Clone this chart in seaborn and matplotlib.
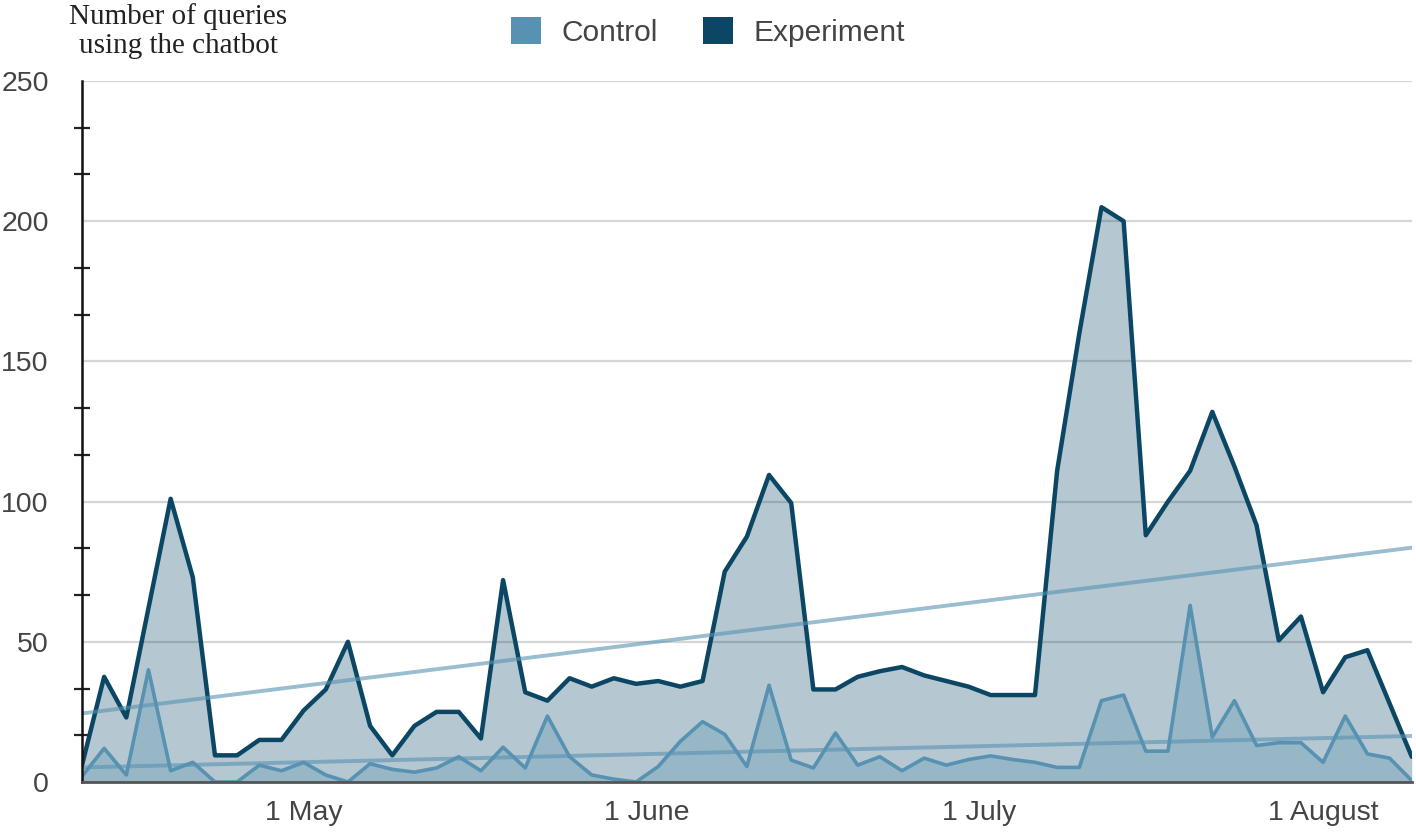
import numpy as np
import pandas as pd
import matplotlib
matplotlib.use("Agg")
import matplotlib.pyplot as plt
from matplotlib.patches import Patch
from matplotlib.ticker import MultipleLocator
import seaborn as sns

# Queries every second day
start_date = "2023-04-11"
n_points = 61
experiment = [6, 37.5, 23, 62, 101, 73, 9.5, 9.5, 15, 15,
              25.5, 33, 50, 20, 9.5, 20, 25, 25, 15.5, 72,
              32, 29, 37, 34, 37, 35, 36, 34, 36, 75,
              87.5, 109.5, 99.5, 33, 33, 37.5, 39.5, 41, 38, 36,
              34, 31, 31, 31, 111, 160, 205, 200, 88, 100,
              111, 132, 112.5, 91.5, 50.5, 59, 32, 44.5, 47, 28, 9]
control = [2, 12, 2.5, 40, 4, 7, 0, 0, 6, 4,
           7, 2.5, 0, 6.5, 4.5, 3.5, 5, 9, 4, 12.4,
           5, 23.5, 9, 2.5, 1, 0, 5.5, 14.5, 21.5, 17,
           5.5, 34.5, 7.8, 5, 17.5, 6, 9, 4, 8.5, 6,
           8, 9.3, 8, 7, 5.2, 5.2, 29, 31, 11, 11,
           63, 16, 29, 13, 14, 14, 7, 23.5, 10, 8.5, 0.5]

tick_dates = ["2023-05-01", "2023-06-01", "2023-07-01", "2023-08-01"]
tick_labels = ["1 May", "1 June", "1 July", "1 August"]
y_ticks = [0, 50, 100, 150, 200, 250]

control_color = "#5792b2"
experiment_color = "#0b4764"

df = pd.DataFrame({
    "date": pd.date_range(start_date, periods=n_points, freq="2D"),
    "Control": control,
    "Experiment": experiment,
})

sns.set_theme(style="white")
plt.rcParams["font.family"] = ["Liberation Sans", "DejaVu Sans"]

fig = plt.figure(figsize=(14.16, 8.35), dpi=100)
ax = fig.add_axes([0.0579, 0.0635, 0.9391, 0.8395])

# Gridlines below the areas
ax.set_axisbelow(True)
ax.yaxis.grid(True, color="#d6d6d6", linewidth=1.6)

# Areas
ax.fill_between(df["date"], df["Experiment"], color=experiment_color, alpha=0.3, linewidth=0)
ax.fill_between(df["date"], df["Control"], color=control_color, alpha=0.3, linewidth=0)

# Lines
sns.lineplot(data=df, x="date", y="Experiment", ax=ax, color=experiment_color, linewidth=3.2)
sns.lineplot(data=df, x="date", y="Control", ax=ax, color=control_color, linewidth=2.6)

# Linear trend lines
days = (df["date"] - df["date"].iloc[0]).dt.days.to_numpy()
for col in ["Experiment", "Control"]:
    slope, intercept = np.polyfit(days, df[col].to_numpy(), 1)
    ax.plot(df["date"], slope * days + intercept, color=control_color, alpha=0.6, linewidth=2.8)

ax.set_xlim(df["date"].iloc[0], df["date"].iloc[-1])
ax.set_ylim(0, 250)
ax.set_yticks(y_ticks)
ax.yaxis.set_minor_locator(MultipleLocator(50 / 3))
ax.set_xticks(pd.to_datetime(tick_dates))
ax.set_xticklabels(tick_labels)
ax.set_xlabel("")
ax.set_ylabel("")

ax.tick_params(axis="y", which="major", length=0, pad=24, labelsize=20.5, labelcolor="#444444")
ax.tick_params(axis="y", which="minor", left=True, length=12, width=1.6, direction="inout", color="#222222")
ax.tick_params(axis="x", which="major", length=0, pad=13, labelsize=20.5, labelcolor="#444444")

for side in ["top", "right"]:
    ax.spines[side].set_visible(False)
ax.spines["left"].set_color("#111111")
ax.spines["left"].set_linewidth(1.8)
ax.spines["bottom"].set_color("#555555")
ax.spines["bottom"].set_linewidth(2)

# Y axis title above the axis
fig.text(178 / 1416, 1 - 3 / 835, "Number of queries\nusing the chatbot", ha="center", va="top",
         fontsize=21, family=["Liberation Serif", "DejaVu Serif"], color="#222222", linespacing=1.15)

handles = [Patch(facecolor=control_color, edgecolor="none"),
           Patch(facecolor=experiment_color, edgecolor="none")]
fig.legend(handles, ["Control", "Experiment"], loc="center", bbox_to_anchor=(0.5, 0.962),
           ncol=2, frameon=False, fontsize=21.5, handlelength=1.0, handleheight=1.0,
           handletextpad=0.7, columnspacing=1.5, labelcolor="#444444")

fig.savefig("out.png", dpi=100)
